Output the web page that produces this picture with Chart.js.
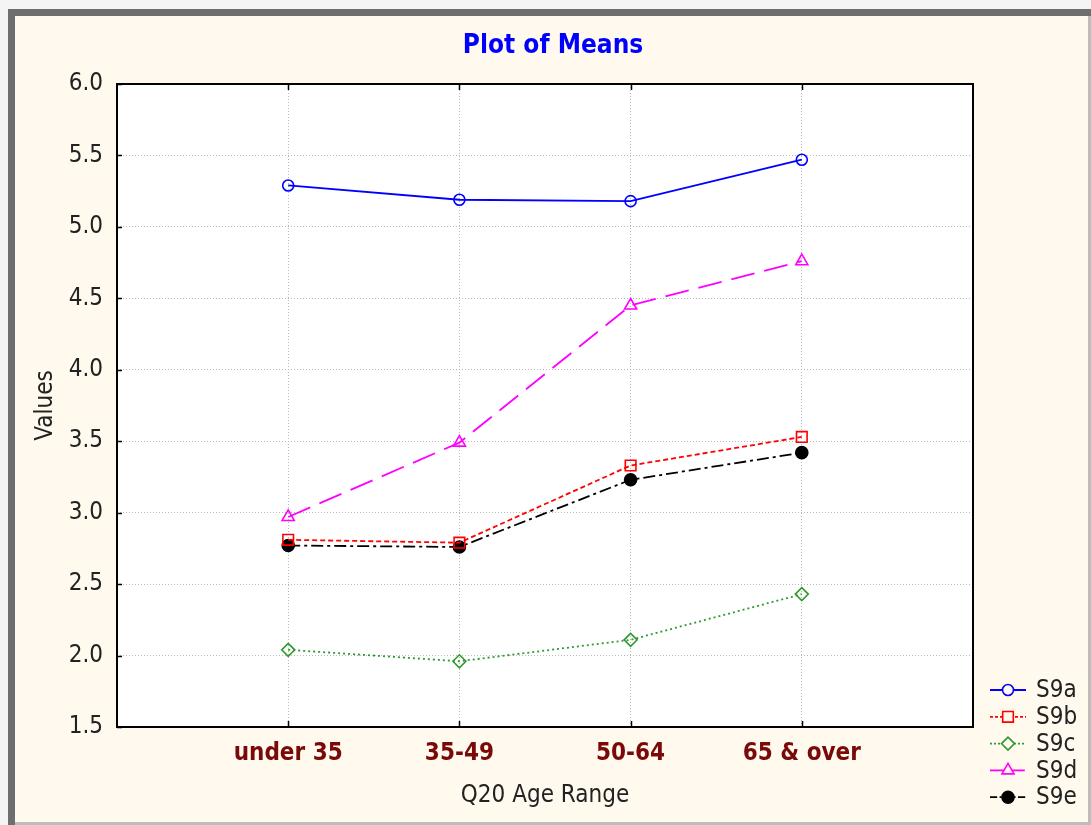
<!DOCTYPE html>
<html>
<head>
<meta charset="utf-8">
<script src="https://cdn.jsdelivr.net/npm/chart.js@4.4.1/dist/chart.umd.min.js"></script>
<style>
  html, body { margin: 0; padding: 0; background: #f4f4f4; }
  #wrap { width: 1091px; height: 825px; }
</style>
</head>
<body>
<div id="wrap"><canvas id="chart" width="1091" height="825"></canvas></div>
<script>
const ageGroups = ['under 35', '35-49', '50-64', '65 & over'];
const s9a = [5.29, 5.19, 5.18, 5.47];
const s9b = [2.81, 2.79, 3.33, 3.53];
const s9c = [2.04, 1.96, 2.11, 2.43];
const s9d = [2.97, 3.49, 4.45, 4.76];
const s9e = [2.77, 2.76, 3.23, 3.42];
const yTicks = [1.5, 2.0, 2.5, 3.0, 3.5, 4.0, 4.5, 5.0, 5.5, 6.0];

const NARROW = "'Liberation Sans Narrow', 'Arial Narrow', 'DejaVu Sans Condensed', sans-serif";

function pts(values) {
  return values.map((v, i) => ({ x: i + 1, y: v }));
}

function series(label, values, color, dash, style, radius, fill) {
  return {
    label,
    data: pts(values),
    borderColor: color,
    borderWidth: 1.8,
    borderDash: dash,
    pointStyle: style,
    pointRadius: radius,
    pointHoverRadius: radius,
    pointBorderColor: color,
    pointBorderWidth: 1.6,
    pointBackgroundColor: fill,
    tension: 0
  };
}

// cream panel with the grey frame, white plot area, title
const framePlugin = {
  id: 'frame',
  beforeDraw(chart) {
    const { ctx, width, height, chartArea: a } = chart;
    ctx.save();
    ctx.fillStyle = '#f4f4f4';
    ctx.fillRect(0, 0, width, height);
    ctx.fillStyle = '#6e6e6e';
    ctx.fillRect(8, 9, width - 8, 7);
    ctx.fillRect(8, 9, 7, height - 9);
    ctx.fillStyle = '#bdbdbd';
    ctx.fillRect(width - 3, 16, 3, height - 16);
    ctx.fillRect(15, height - 3, width - 15, 3);
    ctx.fillStyle = '#fff9ee';
    ctx.fillRect(15, 16, width - 18, height - 19);
    ctx.fillStyle = '#ffffff';
    ctx.fillRect(a.left, a.top, a.right - a.left, a.bottom - a.top);

    ctx.fillStyle = '#0000ff';
    ctx.font = 'bold 26px ' + NARROW;
    ctx.textAlign = 'center';
    ctx.textBaseline = 'middle';
    ctx.fillText('Plot of Means', 553, 46);
    ctx.restore();
  },
  afterDatasetsDraw(chart) {
    const { ctx, chartArea: a, scales } = chart;
    ctx.save();
    ctx.strokeStyle = '#000';
    ctx.lineWidth = 1.5;
    ctx.beginPath();
    scales.y.ticks.forEach(t => {
      const y = Math.round(scales.y.getPixelForValue(t.value)) + 0.5;
      ctx.moveTo(a.left, y); ctx.lineTo(a.left + 5, y);
    });
    scales.x.ticks.forEach(t => {
      const x = Math.round(scales.x.getPixelForValue(t.value)) + 0.5;
      ctx.moveTo(x, a.top); ctx.lineTo(x, a.top + 6);
      ctx.moveTo(x, a.bottom); ctx.lineTo(x, a.bottom - 6);
    });
    ctx.stroke();
    ctx.lineWidth = 2;
    ctx.strokeRect(a.left, a.top, a.right - a.left, a.bottom - a.top);
    ctx.restore();
  }
};

// line + marker legend in the bottom right corner
const legendPlugin = {
  id: 'sideLegend',
  afterDraw(chart) {
    const { ctx } = chart;
    const x0 = 990, x1 = 1026, tx = 1036, y0 = 690, step = 26.8;
    ctx.save();
    chart.data.datasets.forEach((ds, i) => {
      const y = y0 + i * step;
      ctx.strokeStyle = ds.borderColor;
      ctx.lineWidth = ds.borderWidth;
      ctx.setLineDash(ds.borderDash.length ? ds.borderDash.map(d => Math.max(2, d * 0.6)) : []);
      ctx.beginPath();
      ctx.moveTo(x0, y); ctx.lineTo(x1, y);
      ctx.stroke();
      ctx.setLineDash([]);
      ctx.fillStyle = ds.pointBackgroundColor === 'rgba(0,0,0,0)' ? '#fff9ee' : ds.pointBackgroundColor;
      ctx.strokeStyle = ds.borderColor;
      ctx.lineWidth = ds.pointBorderWidth;
      Chart.helpers.drawPoint(ctx, {
        pointStyle: ds.pointStyle,
        radius: ds.pointRadius,
        borderWidth: ds.pointBorderWidth,
        rotation: 0
      }, (x0 + x1) / 2, y);
      ctx.fillStyle = '#222';
      ctx.font = '24px ' + NARROW;
      ctx.textBaseline = 'middle';
      ctx.textAlign = 'left';
      ctx.fillText(ds.label, tx, y + 1);
    });
    ctx.restore();
  }
};

new Chart(document.getElementById('chart'), {
  type: 'line',
  data: {
    datasets: [
      series('S9a', s9a, '#0000ff', [], 'circle', 5.5, 'rgba(0,0,0,0)'),
      series('S9b', s9b, '#ff0000', [5, 3], 'rect', 7.5, 'rgba(0,0,0,0)'),
      series('S9c', s9c, '#2f9a2f', [2, 3], 'rectRot', 6.5, 'rgba(0,0,0,0)'),
      series('S9d', s9d, '#ff00ff', [24, 10], 'triangle', 7, 'rgba(0,0,0,0)'),
      series('S9e', s9e, '#000000', [12, 4, 3, 4], 'circle', 6, '#000000')
    ]
  },
  options: {
    responsive: false,
    animation: false,
    layout: { padding: { left: 17, right: 118, top: 84, bottom: 13 } },
    plugins: {
      legend: { display: false },
      tooltip: { enabled: false },
      title: { display: false }
    },
    scales: {
      x: {
        type: 'linear',
        min: 0,
        max: 5,
        afterBuildTicks: s => { s.ticks = ageGroups.map((_, i) => ({ value: i + 1 })); },
        afterFit: s => { s.height = 85; },
        ticks: {
          autoSkip: false,
          maxRotation: 0,
          padding: 12,
          color: '#7a0a0a',
          font: { family: NARROW, size: 24, weight: 'bold' },
          callback: v => ageGroups[v - 1]
        },
        grid: { color: '#b8b8b8', lineWidth: 1, drawTicks: false },
        border: { display: false, dash: [1, 2] },
        title: {
          display: true,
          text: 'Q20 Age Range',
          color: '#222',
          font: { family: NARROW, size: 24 },
          padding: { top: 0, bottom: 2 }
        }
      },
      y: {
        min: 1.5,
        max: 6,
        afterBuildTicks: s => { s.ticks = yTicks.map(v => ({ value: v })); },
        afterFit: s => { s.width = 100; },
        ticks: {
          padding: 14,
          color: '#222',
          font: { family: NARROW, size: 24 },
          callback: v => Number(v).toFixed(1)
        },
        grid: { color: '#b8b8b8', lineWidth: 1, drawTicks: false },
        border: { display: false, dash: [1, 2] },
        title: {
          display: true,
          text: 'Values',
          color: '#222',
          font: { family: NARROW, size: 24 },
          padding: { top: 14, bottom: 0 }
        }
      }
    }
  },
  plugins: [framePlugin, legendPlugin]
});
</script>
</body>
</html>
